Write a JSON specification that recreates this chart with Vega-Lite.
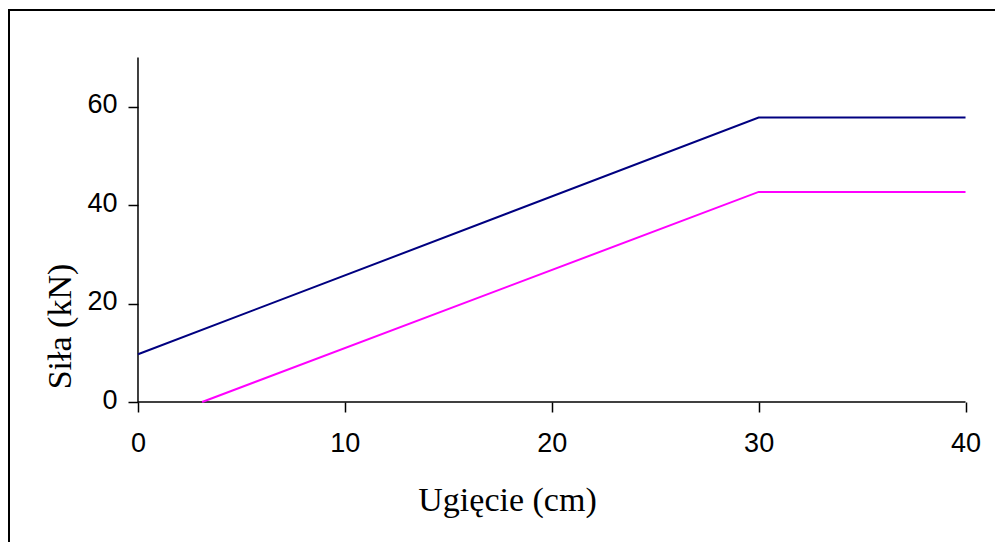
{
  "$schema": "https://vega.github.io/schema/vega-lite/v6.json",
  "autosize": "none",
  "width": 989,
  "height": 538,
  "padding": {"left": 9, "top": 10, "right": -3, "bottom": -6},
  "background": "white",
  "config": {
    "view": {"stroke": "black", "strokeWidth": 2},
    "axis": {
      "grid": false,
      "domain": false,
      "tickColor": "black",
      "tickWidth": 1.5,
      "tickSize": 10,
      "labelFont": "Liberation Sans",
      "labelFontSize": 27,
      "labelColor": "black",
      "labelFlush": false,
      "labelOverlap": false,
      "titleFont": "Liberation Serif",
      "titleFontSize": 34,
      "titleFontWeight": "normal",
      "titleColor": "black"
    }
  },
  "datasets": {
    "curves": [
      {"ugiecie": 0, "sila": 9.7, "seria": "A"},
      {"ugiecie": 30, "sila": 57.8, "seria": "A"},
      {"ugiecie": 40, "sila": 57.8, "seria": "A"},
      {"ugiecie": 3.1, "sila": 0, "seria": "B"},
      {"ugiecie": 30, "sila": 42.7, "seria": "B"},
      {"ugiecie": 40, "sila": 42.7, "seria": "B"}
    ],
    "axes": [
      {"x": 0, "x2": 40, "y": 0, "y2": 0},
      {"x": 0, "x2": 0, "y": 0, "y2": 70}
    ]
  },
  "layer": [
    {
      "data": {"name": "axes"},
      "mark": {"type": "rule", "color": "black", "strokeWidth": 1.5},
      "encoding": {
        "x": {"field": "x", "type": "quantitative",
              "scale": {"domain": [-6.235, 41.57], "nice": false, "zero": false},
              "axis": {"title": "Ugięcie (cm)", "values": [0, 10, 20, 30, 40], "offset": -146,
                       "labelBaseline": "alphabetic", "labelPadding": 39,
                       "titleBaseline": "alphabetic", "titleY": 108, "titleX": 498, "titleAnchor": null}},
        "x2": {"field": "x2"},
        "y": {"field": "y", "type": "quantitative",
              "scale": {"domain": [-29.67, 79.67], "nice": false, "zero": false},
              "axis": {"title": "Siła (kN)", "values": [0, 20, 40, 60], "offset": -129,
                       "labelBaseline": "alphabetic", "labelOffset": 6, "labelPadding": 11,
                       "titleBaseline": "alphabetic", "titleX": -68, "titleY": 316, "titleAngle": -90}},
        "y2": {"field": "y2"}
      }
    },
    {
      "data": {"name": "curves"},
      "mark": {"type": "line", "strokeWidth": 2},
      "encoding": {
        "x": {"field": "ugiecie", "type": "quantitative"},
        "y": {"field": "sila", "type": "quantitative"},
        "color": {"field": "seria", "type": "nominal",
                  "scale": {"domain": ["A", "B"], "range": ["#000080", "#ff00ff"]},
                  "legend": null}
      }
    }
  ]
}
